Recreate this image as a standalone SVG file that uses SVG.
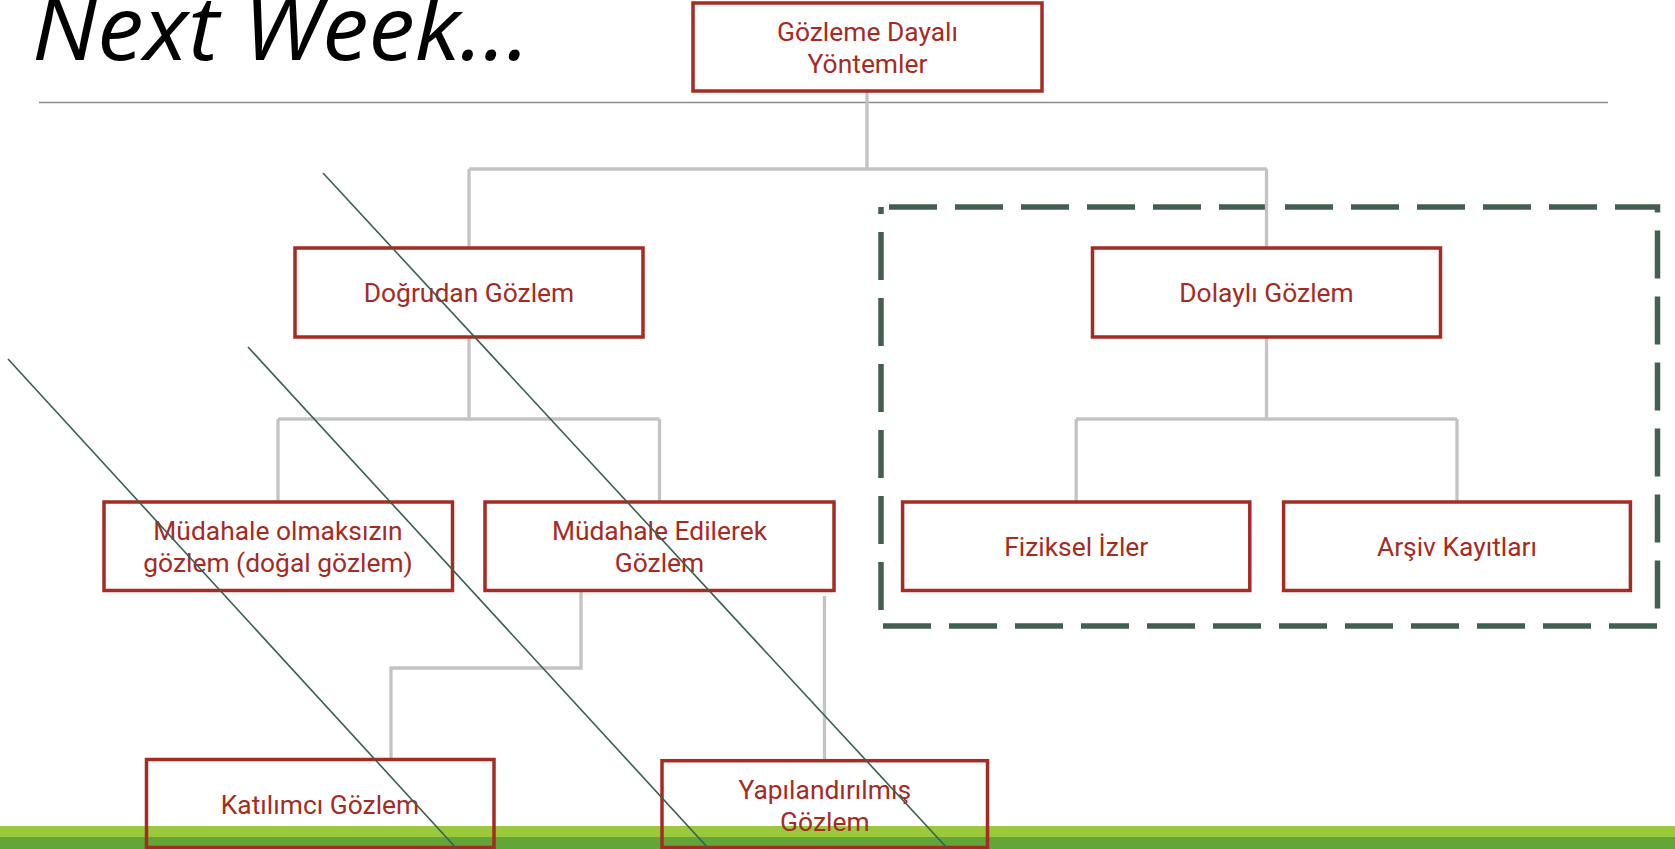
<svg xmlns="http://www.w3.org/2000/svg" width="1675" height="849" viewBox="0 0 1675 849">
<style>
.box{fill:none;stroke:#A62B23;stroke-width:3.5}
.lbl{font-family:Roboto,"Liberation Sans",sans-serif;font-size:26.4px;fill:#A62B23;text-anchor:middle}
.con{fill:none;stroke:#C3C3C3;stroke-width:3.3}
.diag{stroke:#3E5E4E;stroke-width:1.6;fill:none}
</style>
<rect width="1675" height="849" fill="#FFFFFF"/>
<text x="32" y="60" font-family="'Open Sans','DejaVu Sans',sans-serif" font-style="italic" font-size="90" fill="#000000" textLength="498" lengthAdjust="spacingAndGlyphs">Next Week...</text>
<line x1="39" y1="102.5" x2="1608" y2="102.5" stroke="#8C8C8C" stroke-width="1.3"/>
<rect x="0" y="826" width="1675" height="11" fill="#9ACA3C"/>
<rect x="0" y="837" width="1675" height="12" fill="#62A63A"/>
<path d="M881,207 H1657.5 V626 H881 Z" fill="none" stroke="#435F4F" stroke-width="5.5" stroke-dasharray="48 18" stroke-dashoffset="58"/>
<g id="connectors">
<path class="con" d="M867,92 V169 M469,169 H1267 M469,169 V248 M1266.5,169 V248"/>
<path class="con" d="M469,337.5 V419 M278,419 H659.5 M278,419 V502 M659.5,419 V502"/>
<path class="con" d="M1266.5,337.5 V419 M1076.2,419 H1457 M1076.2,419 V502 M1457,419 V502"/>
<path class="con" d="M581,591 V668 H391 V759.5"/>
<path class="con" d="M824.5,596 V760.7"/>
</g>
<g id="n-root"><rect class="box" x="693" y="3" width="349" height="88"/><text class="lbl" x="867.5" y="40.5">Gözleme Dayalı</text><text class="lbl" x="867.5" y="73">Yöntemler</text></g>
<g id="n-dogrudan"><rect class="box" x="295" y="248" width="348" height="89"/><text class="lbl" x="469" y="301.5">Doğrudan Gözlem</text></g>
<g id="n-dolayli"><rect class="box" x="1092.5" y="248" width="348" height="89"/><text class="lbl" x="1266.5" y="301.5">Dolaylı Gözlem</text></g>
<g id="n-mudahalesiz"><rect class="box" x="104" y="502" width="348.5" height="88.5"/><text class="lbl" x="278" y="539.5">Müdahale olmaksızın</text><text class="lbl" x="278" y="572">gözlem (doğal gözlem)</text></g>
<g id="n-mudahaleli"><rect class="box" x="485" y="502" width="349" height="88.5"/><text class="lbl" x="659.5" y="539.5">Müdahale Edilerek</text><text class="lbl" x="659.5" y="572">Gözlem</text></g>
<g id="n-fiziksel"><rect class="box" x="902.6" y="502" width="347.2" height="88.5"/><text class="lbl" x="1076.2" y="555.5">Fiziksel İzler</text></g>
<g id="n-arsiv"><rect class="box" x="1283.6" y="502" width="346.8" height="88.5"/><text class="lbl" x="1457" y="555.5">Arşiv Kayıtları</text></g>
<g id="n-katilimci"><rect class="box" x="146.5" y="759.5" width="347.5" height="88"/><text class="lbl" x="320" y="813.5">Katılımcı Gözlem</text></g>
<g id="n-yapilandirilmis"><rect class="box" x="662" y="760.7" width="325.5" height="86.8"/><text class="lbl" x="824.8" y="799">Yapılandırılmış</text><text class="lbl" x="824.8" y="830.5">Gözlem</text></g>
<g id="diagonals">
<line class="diag" x1="323" y1="173" x2="948" y2="849"/>
<line class="diag" x1="248" y1="347" x2="709" y2="849"/>
<line class="diag" x1="8" y1="359" x2="457" y2="849"/>
</g>
</svg>
